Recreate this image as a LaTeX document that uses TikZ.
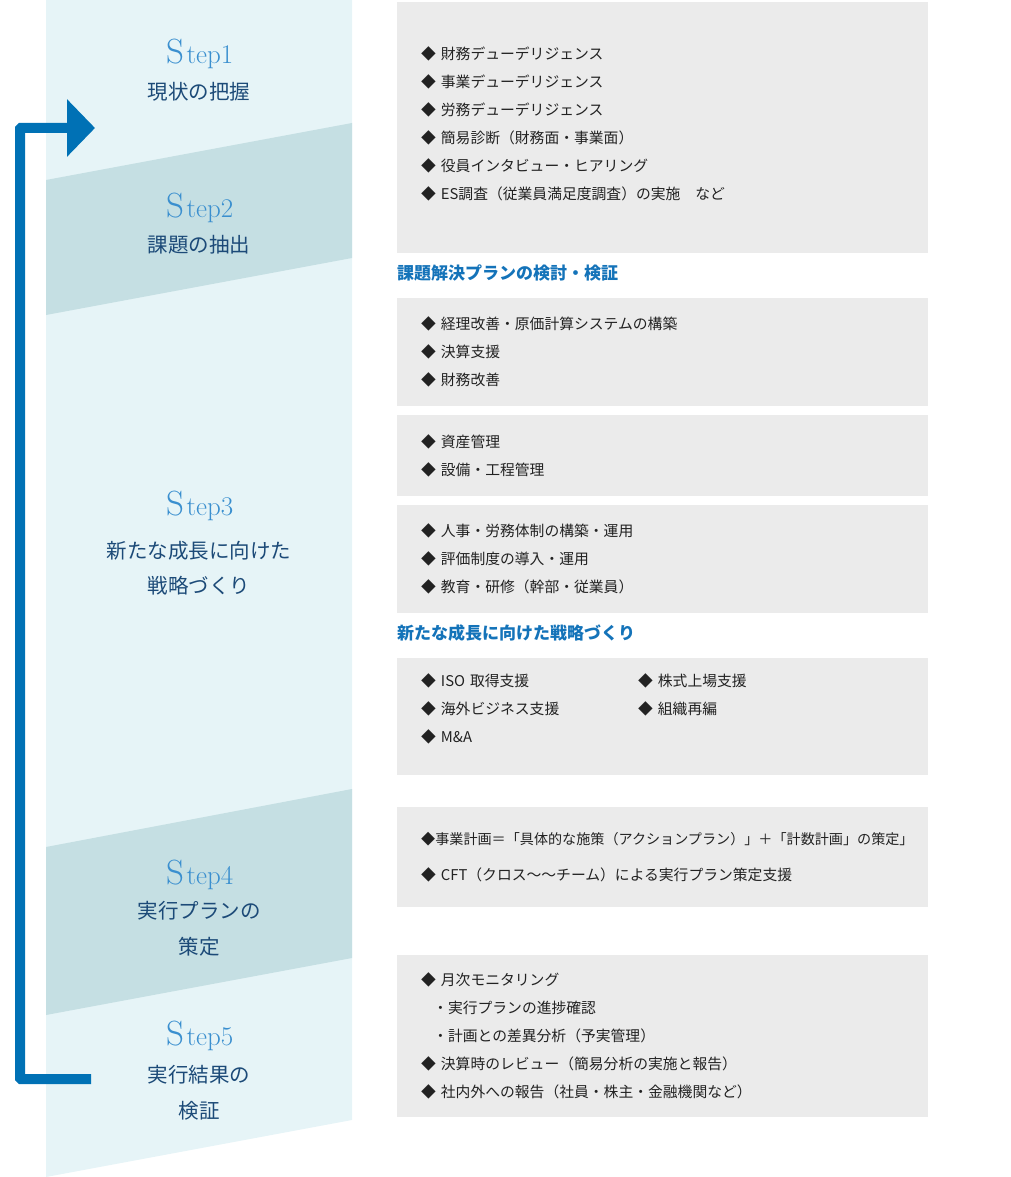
\documentclass[tikz,border=0pt]{standalone}
\usepackage{fontspec}
\newfontfamily\jp{Noto Sans CJK JP}
\usetikzlibrary{positioning,arrows.meta}

\definecolor{bandlight}{HTML}{E6F4F7}
\definecolor{banddark}{HTML}{C5DFE3}
\definecolor{loopblue}{HTML}{0071B5}
\definecolor{stepblue}{HTML}{3A8FCF}
\definecolor{titlenavy}{HTML}{1C4A78}
\definecolor{headblue}{HTML}{1473B9}
\definecolor{boxgray}{HTML}{EBEBEB}
\definecolor{itemink}{HTML}{222222}

\newcommand{\stepno}[1]{{\fontsize{35}{35}\selectfont S}\hspace{2pt}{\fontsize{27}{27}\selectfont\addfontfeature{LetterSpace=6}tep#1}}

\begin{document}
\begin{tikzpicture}[x=1pt,y=-1pt,
  stepmark/.style={text=stepblue,anchor=base,inner sep=0pt},
  steptitle/.style={text=titlenavy,font=\jp\fontsize{20.5}{35}\selectfont,align=center,inner sep=0pt},
  itembox/.style={fill=boxgray,text=itemink,font=\jp\fontsize{14.8}{28}\selectfont,align=left,
    anchor=north west,text width=483pt,inner xsep=24pt,inner ysep=0pt},
  heading/.style={text=headblue,font=\jp\bfseries\fontsize{17}{20}\selectfont,anchor=west,inner sep=0pt},
  loopline/.style={draw=loopblue,line width=10pt,rounded corners=1pt,-{Triangle[length=28pt,width=56pt]}}]

\useasboundingbox (0,0) rectangle (1010,1177);

% step column
\fill[bandlight] (46,0) -- (352,0) -- (352,1120) -- (46,1177) -- cycle;
\fill[banddark] (46,180) -- (352,123) -- (352,258) -- (46,315) -- cycle;
\fill[banddark] (46,847) -- (352,789) -- (352,958) -- (46,1015) -- cycle;

\node[stepmark] (s1) at (200,64) {\stepno{1}};
\node[steptitle] (t1) at (199,92) {現状の把握};
\node[stepmark] (s2) at (200,218) {\stepno{2}};
\node[steptitle] (t2) at (199,245) {課題の抽出};
\node[stepmark] (s3) at (200,515) {\stepno{3}};
\node[steptitle] (t3) at (199,568.5) {新たな成長に向けた\\戦略づくり};
\node[stepmark] (s4) at (200,884) {\stepno{4}};
\node[steptitle] (t4) at (199,929) {実行プランの\\[1pt]策定};
\node[stepmark] (s5) at (200,1045) {\stepno{5}};
\node[steptitle] (t5) at (199,1093) {実行結果の\\[1pt]検証};

% loop back from step 5 to step 1
\coordinate (fromfive) at (91,1079);
\coordinate (toone) at (95,128);
\draw[loopline] (fromfive) -- ++(-71,0) |- (toone);

% boxes
\node[itembox,minimum height=251pt] (survey) at (397,2) {%
\begin{tabular}{@{}l@{}}
◆ 財務デューデリジェンス\\
◆ 事業デューデリジェンス\\
◆ 労務デューデリジェンス\\
◆ 簡易診断（財務面・事業面）\\
◆ 役員インタビュー・ヒアリング\\
◆ ES調査（従業員満足度調査）の実施　など\\[8pt]
\end{tabular}};

\node[heading] (plan) at (397,273) {課題解決プランの検討・検証};

\node[itembox,minimum height=108pt] (account) at (397,298) {%
◆ 経理改善・原価計算システムの構築\\
◆ 決算支援\\
◆ 財務改善};
\node[itembox,minimum height=81pt] (asset) at (397,415) {%
◆ 資産管理\\
◆ 設備・工程管理};
\node[itembox,minimum height=108pt] (staff) at (397,505) {%
◆ 人事・労務体制の構築・運用\\
◆ 評価制度の導入・運用\\
◆ 教育・研修（幹部・従業員）};

\node[heading] (growth) at (397,633) {新たな成長に向けた戦略づくり};

\node[itembox,minimum height=117pt] (expand) at (397,658) {%
\begin{tabular}{@{}p{217pt}@{}l@{}}
◆ ISO 取得支援 & ◆ 株式上場支援\\
◆ 海外ビジネス支援 & ◆ 組織再編\\
◆ M\&A & \\[15pt]
\end{tabular}};

\node[itembox,minimum height=100pt] (bizplan) at (397,807) {%
{\fontsize{14.1}{28}\selectfont ◆事業計画＝「具体的な施策（アクションプラン）」＋「計数計画」の策定」}\\[8pt]
◆ CFT（クロス〜〜チーム）による実行プラン策定支援};

\node[itembox,minimum height=162pt] (monitor) at (397,955) {%
◆ 月次モニタリング\\
\hspace*{12pt}・実行プランの進捗確認\\
\hspace*{12pt}・計画との差異分析（予実管理）\\
◆ 決算時のレビュー（簡易分析の実施と報告）\\
◆ 社内外への報告（社員・株主・金融機関など）};

\end{tikzpicture}
\end{document}
